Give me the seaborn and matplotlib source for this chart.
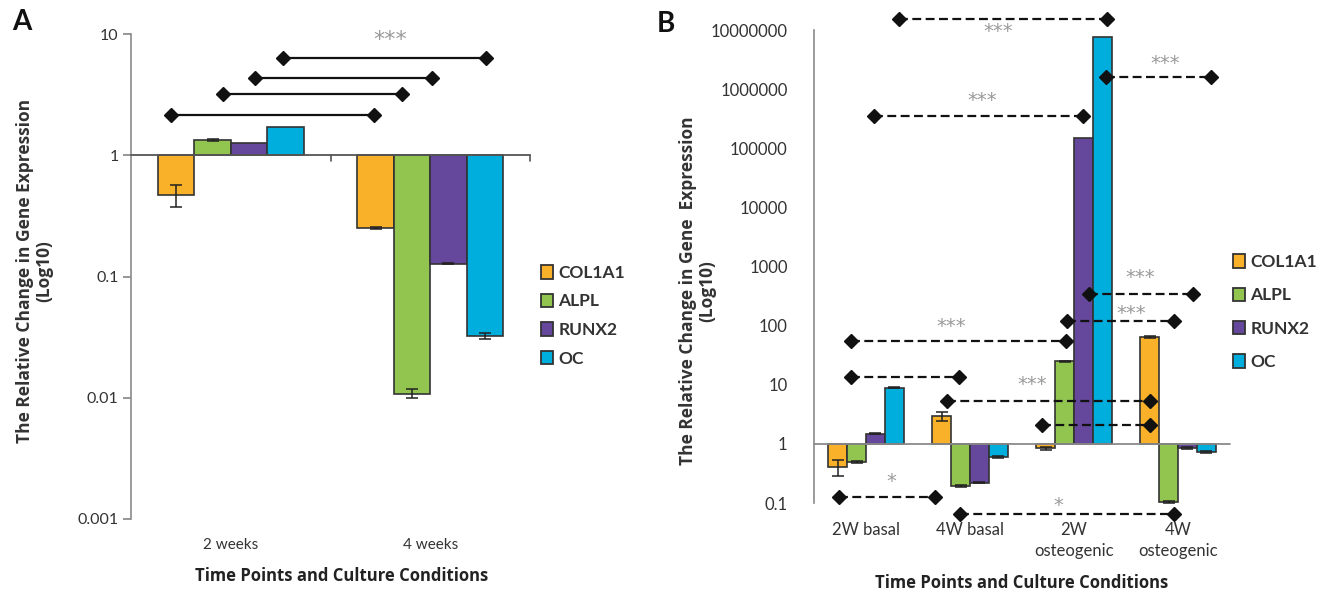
import numpy as np
import pandas as pd
import matplotlib
matplotlib.use("Agg")
import matplotlib.pyplot as plt
import seaborn as sns
from matplotlib.patches import Patch

# ---------------- data ----------------
genes = ["COL1A1", "ALPL", "RUNX2", "OC"]
colors = ["#F9B12A", "#92C450", "#65489B", "#00AEDD"]

# Panel A
a_categories = ["2 weeks", "4 weeks"]
a_col1a1 = [0.47, 0.25]
a_alpl = [1.33, 0.0108]
a_runx2 = [1.26, 0.128]
a_oc = [1.70, 0.0325]
a_err_col1a1 = [0.095, 0.004]
a_err_alpl = [0.02, 0.0009]
a_err_runx2 = [0.0, 0.002]
a_err_oc = [0.0, 0.002]
a_yticks = [0.001, 0.01, 0.1, 1, 10]
a_yticklabels = ["0.001", "0.01", "0.1", "1", "10"]
a_sig_x0 = [-0.30, -0.04, 0.12, 0.26]
a_sig_x1 = [0.72, 0.86, 1.01, 1.28]
a_sig_y = [2.14, 3.19, 4.33, 6.34]
a_star_x = [0.80]
a_star_y = [8.9]
a_star_txt = ["***"]

# Panel B
b_categories = ["2W basal", "4W basal", "2W\nosteogenic", "4W\nosteogenic"]
b_col1a1 = [0.41, 2.97, 0.85, 65]
b_alpl = [0.5, 0.195, 25, 0.104]
b_runx2 = [1.48, 0.22, 150000, 0.86]
b_oc = [8.9, 0.6, 7.7e6, 0.73]
b_err_col1a1 = [0.12, 0.5, 0.05, 2.0]
b_err_alpl = [0.02, 0.008, 0.8, 0.003]
b_err_runx2 = [0.03, 0.005, 0.0, 0.03]
b_err_oc = [0.2, 0.03, 0.0, 0.03]
b_yticks = [0.1, 1, 10, 100, 1000, 10000, 100000, 1000000, 10000000]
b_yticklabels = ["0.1", "1", "10", "100", "1000", "10000", "100000", "1000000", "10000000"]
b_sig_x0 = [0.32, 0.08, 2.31, 2.14, 1.93, -0.14, -0.14, 0.78, 1.69, -0.26, 0.90]
b_sig_x1 = [2.32, 2.09, 3.32, 3.14, 2.96, 1.92, 0.89, 2.73, 2.73, 0.66, 2.96]
b_sig_y = [1.55e7, 3.5e5, 1.6e6, 350, 120, 55, 13.5, 5.4, 2.1, 0.126, 0.066]
b_star_x = [1.27, 1.12, 2.88, 2.64, 2.55, 0.82, 1.60, 0.24, 1.85]
b_star_y = [0.95e7, 6.6e5, 2.7e6, 650, 160, 98, 10.0, 0.23, 0.092]
b_star_txt = ["***", "***", "***", "***", "***", "***", "***", "*", "*"]

# ---------------- style ----------------
sns.set_theme(style="white")
plt.rcParams["font.family"] = ["Lato", "DejaVu Sans"]
EDGE = "#333333"
GRAY = "#8a8a8a"
STAR = "#9a9a9a"
TXT = "#333333"
LABF = ["Open Sans", "DejaVu Sans"]

W, H = 1319, 590
fig = plt.figure(figsize=(W / 100, H / 100), dpi=100)


def make_df(cats, series):
    rows = []
    for g, vals in zip(genes, series):
        for c, v in zip(cats, vals):
            rows.append({"cat": c, "gene": g, "logv": np.log10(v)})
    return pd.DataFrame(rows)


def draw_bars(ax, cats, series, errs):
    df = make_df(cats, series)
    sns.barplot(data=df, x="cat", y="logv", hue="gene", order=cats,
                hue_order=genes, palette=colors, width=0.73, errorbar=None,
                edgecolor=EDGE, linewidth=1.2, saturation=1, legend=False, ax=ax)
    for cont, vals, ers in zip(ax.containers, series, errs):
        for bar, v, e in zip(cont, vals, ers):
            if e <= 0:
                continue
            xc = bar.get_x() + bar.get_width() / 2
            lv = np.log10(v)
            lo = lv - np.log10(max(v - e, 1e-9))
            hi = np.log10(v + e) - lv
            ax.errorbar([xc], [lv], yerr=[[lo], [hi]], fmt="none", ecolor="#222222",
                        elinewidth=1.1, capsize=4, capthick=1.1, zorder=5)


def legend(ax, x, y, spacing):
    ax.legend(handles=[Patch(facecolor=c, edgecolor=EDGE, lw=1.3, label=g)
                       for g, c in zip(genes, colors)],
              loc="upper left", bbox_to_anchor=(x / W, 1 - y / H),
              bbox_transform=fig.transFigure, frameon=False, handlelength=0.7,
              handleheight=0.8, handletextpad=0.3, labelspacing=spacing,
              borderaxespad=0, borderpad=0,
              prop={"size": 12.5, "weight": "bold"}, labelcolor=TXT)


# ---------------- Panel A ----------------
axA = fig.add_axes([131 / W, 1 - 519 / H, 399 / W, 485 / H])
draw_bars(axA, a_categories, [a_col1a1, a_alpl, a_runx2, a_oc],
          [a_err_col1a1, a_err_alpl, a_err_runx2, a_err_oc])
axA.set_xlim(-0.5, 1.5)
axA.set_ylim(-3, 1)
axA.set_yticks(np.log10(a_yticks))
axA.set_yticklabels(a_yticklabels)
for s in ["top", "right", "bottom"]:
    axA.spines[s].set_visible(False)
axA.spines["left"].set_color(GRAY)
axA.spines["left"].set_linewidth(1.2)
axA.tick_params(axis="y", left=True, length=6, color=GRAY, labelsize=11.5, labelcolor=TXT, pad=3)
axA.tick_params(axis="x", bottom=False, length=0, labelsize=11, labelcolor=TXT, pad=14)
axA.set_xlabel("")
axA.set_ylabel("")
axA.plot([-0.5, 1.5], [0, 0], color="#555555", lw=1.3, zorder=4, clip_on=False)
for xb in [0.5, 1.5]:
    axA.plot([xb, xb], [0, -0.045], color="#555555", lw=1.2, clip_on=False)
for x0, x1, y in zip(a_sig_x0, a_sig_x1, a_sig_y):
    axA.plot([x0, x1], [np.log10(y)] * 2, color="#111111", lw=1.6, marker="D",
             ms=7.5, mfc="#111111", mec="#111111", clip_on=False, zorder=6)
for x, y, t in zip(a_star_x, a_star_y, a_star_txt):
    axA.text(x, np.log10(y), t, ha="center", va="center", color=STAR, fontsize=16,
             family=["DejaVu Sans"])
legend(axA, 541, 265, 0.72)

fig.text(35 / W, 1 - 271 / H, "The Relative Change in Gene Expression\n(Log10)",
         rotation=90, ha="center", va="center", multialignment="center",
         fontsize=12.5, fontweight="bold", color=TXT, linespacing=1.1, family=LABF)
fig.text(342 / W, 1 - 576 / H, "Time Points and Culture Conditions", ha="center",
         va="center", fontsize=12, fontweight="bold", color="#222222", family=LABF)
fig.text(12 / W, 1 - 22 / H, "A", ha="left", va="center", fontsize=20,
         fontweight="bold", color="#111111")

# ---------------- Panel B ----------------
axB = fig.add_axes([814 / W, 1 - 520.8 / H, 416 / W, 508.2 / H])
draw_bars(axB, b_categories, [b_col1a1, b_alpl, b_runx2, b_oc],
          [b_err_col1a1, b_err_alpl, b_err_runx2, b_err_oc])
axB.set_xlim(-0.5, 3.5)
axB.set_ylim(-1.3, 7.3)
axB.set_yticks(np.log10(b_yticks))
axB.set_yticklabels(b_yticklabels)
for s in ["top", "right", "bottom"]:
    axB.spines[s].set_visible(False)
axB.spines["left"].set_color(GRAY)
axB.spines["left"].set_linewidth(1.2)
axB.spines["left"].set_bounds(-1, 7)
axB.tick_params(axis="y", left=False, length=0, labelsize=12, labelcolor=TXT, pad=19)
axB.tick_params(axis="x", bottom=False, length=0, labelsize=12, labelcolor=TXT, pad=1)
for lab in axB.get_xticklabels():
    lab.set_linespacing(1.35)
axB.set_xlabel("")
axB.set_ylabel("")
axB.plot([-0.5, 3.5], [0, 0], color=GRAY, lw=1.3, zorder=4, clip_on=False)
for x0, x1, y in zip(b_sig_x0, b_sig_x1, b_sig_y):
    axB.plot([x0, x1], [np.log10(y)] * 2, color="#111111", lw=1.6, ls=(0, (4.0, 2.0)),
             marker="D", ms=7, mfc="#111111", mec="#111111", clip_on=False, zorder=6)
for x, y, t in zip(b_star_x, b_star_y, b_star_txt):
    axB.text(x, np.log10(y), t, ha="center", va="center", color=STAR, fontsize=14,
             family=["DejaVu Sans"])
legend(axB, 1233, 254, 1.0)

fig.text(698 / W, 1 - 291 / H, "The Relative Change in Gene  Expression\n(Log10)",
         rotation=90, ha="center", va="center", multialignment="center",
         fontsize=12.5, fontweight="bold", color=TXT, linespacing=1.1, family=LABF)
fig.text(1022 / W, 1 - 583 / H, "Time Points and Culture Conditions", ha="center",
         va="center", fontsize=12, fontweight="bold", color="#222222", family=LABF)
fig.text(657 / W, 1 - 24 / H, "B", ha="left", va="center", fontsize=20,
         fontweight="bold", color="#111111")

fig.savefig("out.png", dpi=100, facecolor="white")
